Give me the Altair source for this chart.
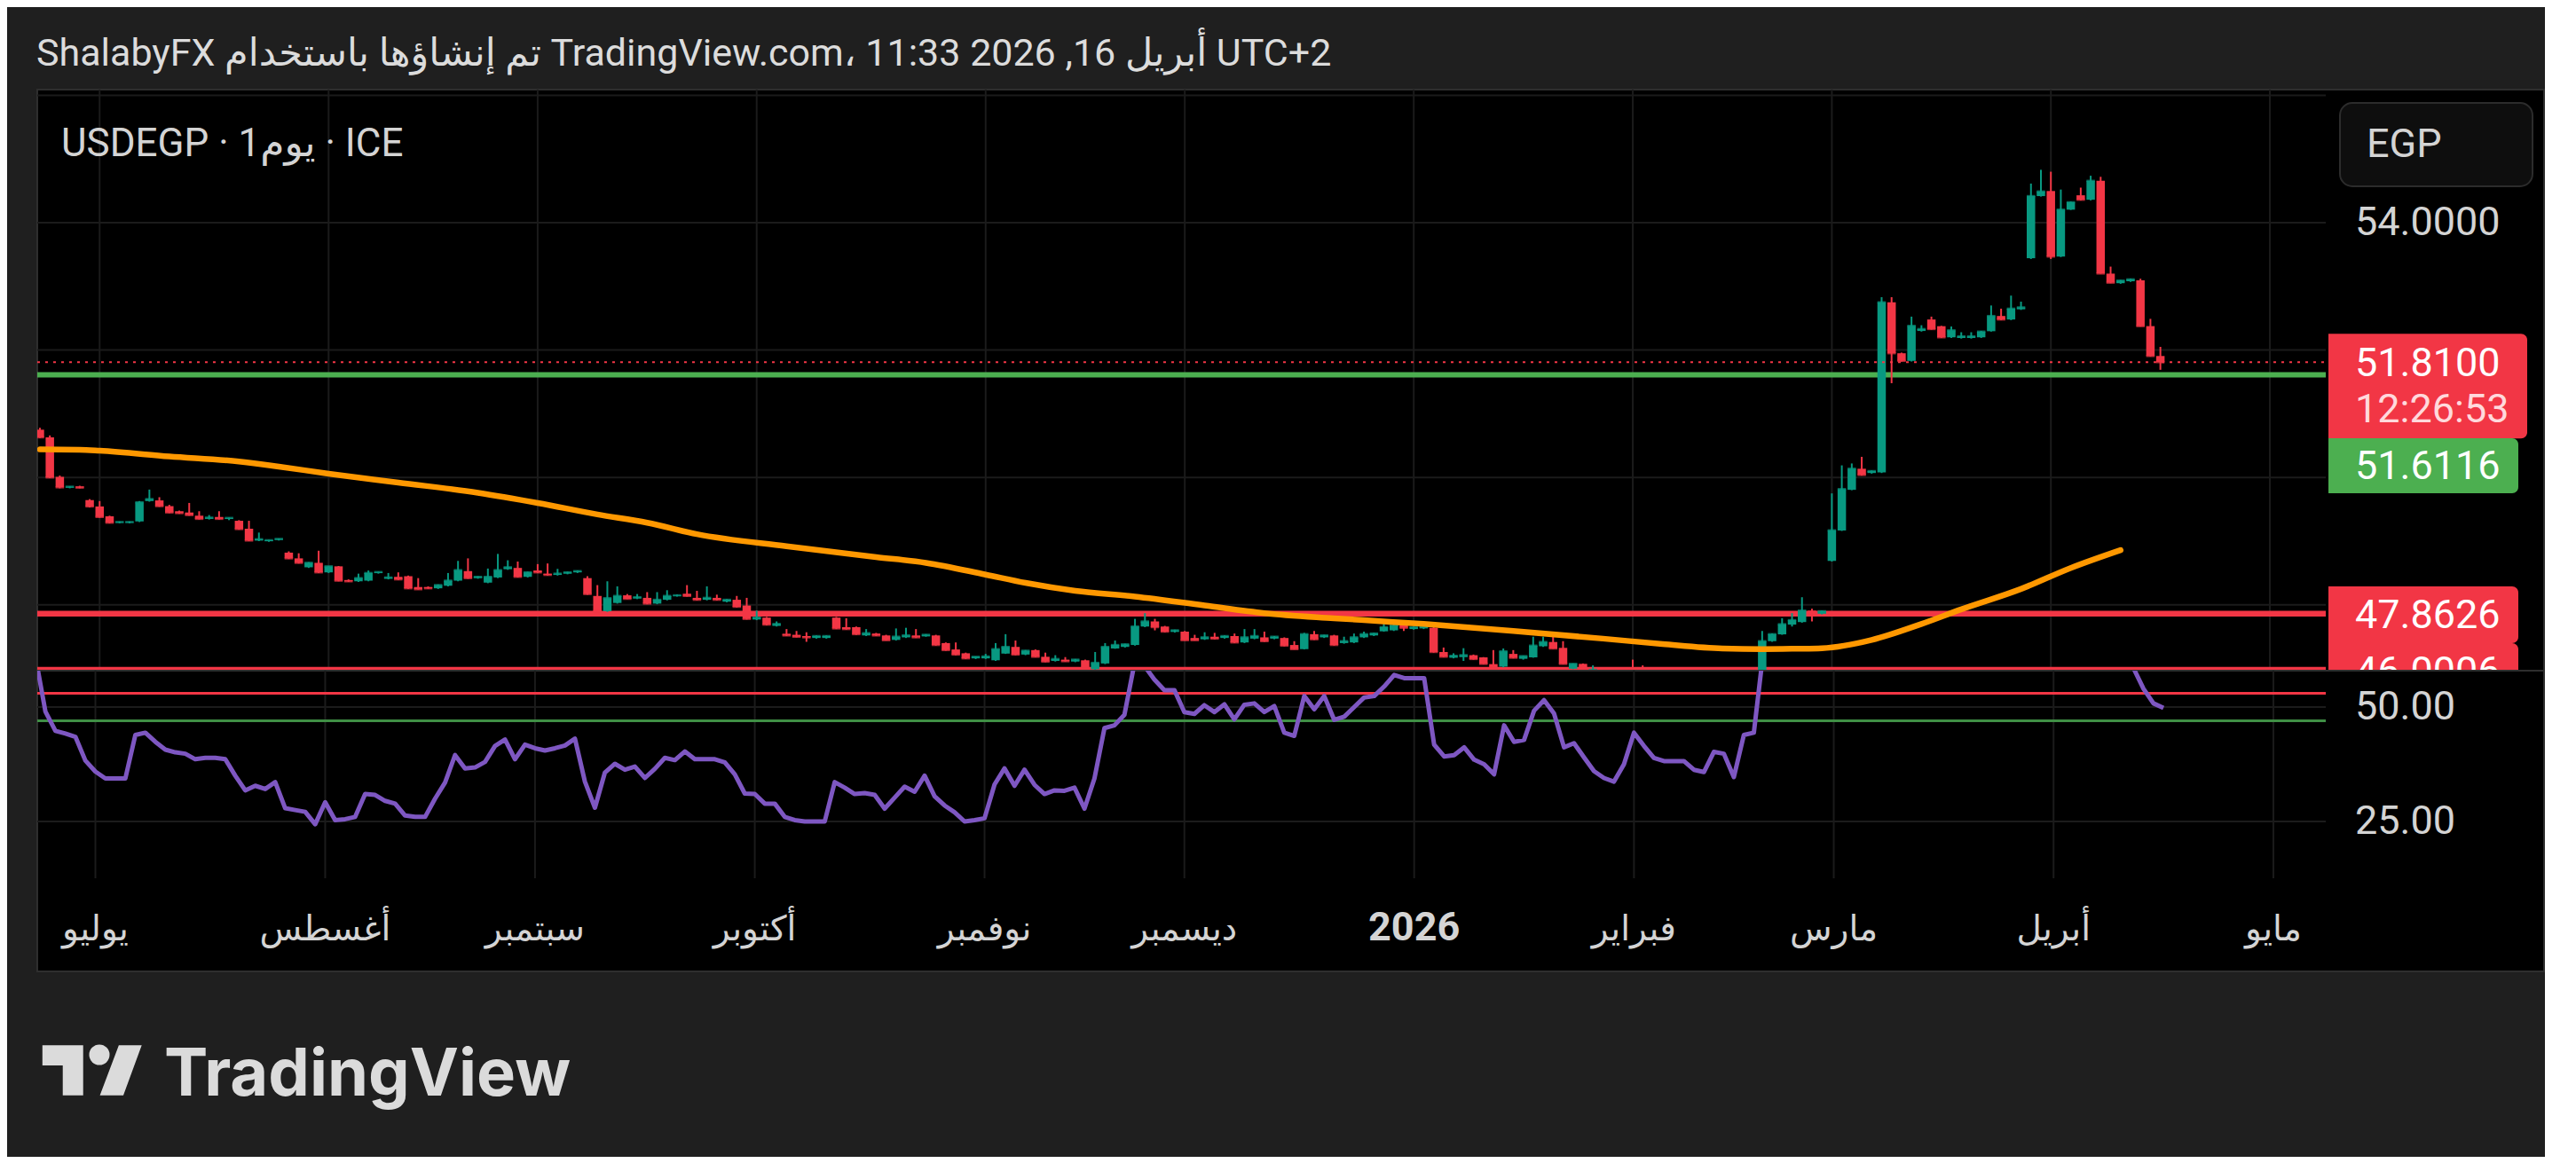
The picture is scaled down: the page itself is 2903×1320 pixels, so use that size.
import altair as alt
import pandas as pd

# ---------------- data ----------------
# bar index: 0 = 1 Jul 2025, one step per trading day
bar_idx = [-6, -5, -4, -3, -2, -1, 0, 1, 2, 3, 4, 5, 6, 7, 8, 9, 10, 11, 12, 13, 14, 15, 16, 17, 18, 19,
           20, 21, 22, 23, 24, 25, 26, 27, 28, 29, 30, 31, 32, 33, 34, 35, 36, 37, 38, 39, 40, 41, 42, 43,
           44, 45, 46, 47, 48, 49, 50, 51, 52, 53, 54, 55, 56, 57, 58, 59, 60, 61, 62, 63, 64, 65, 66, 67,
           68, 69, 70, 71, 72, 73, 74, 75, 76, 77, 78, 79, 80, 81, 82, 83, 84, 85, 86, 87, 88, 89, 90, 91,
           92, 93, 94, 95, 96, 97, 98, 99, 100, 101, 102, 103, 104, 105, 106, 107, 108, 109, 110, 111, 112,
           113, 114, 115, 116, 117, 118, 119, 120, 121, 122, 123, 124, 125, 126, 127, 128, 129, 130, 131,
           132, 133, 134, 135, 136, 137, 138, 139, 140, 141, 142, 143, 144, 145, 146, 147, 148, 149, 150,
           151, 154, 155, 167, 168, 169, 170, 171, 172, 173, 174, 175, 176, 177, 178, 179, 180, 181, 182,
           183, 184, 185, 186, 187, 188, 189, 190, 191, 192, 193, 194, 195, 196, 197, 198, 199, 200, 201,
           202, 203, 204, 205, 206, 207]
bar_open = [50.75, 50.63, 50.01, 49.84, 49.86, 49.645, 49.545, 49.39, 49.29, 49.29, 49.31, 49.63, 49.64,
            49.55, 49.47, 49.45, 49.40, 49.35, 49.38, 49.35, 49.32, 49.195, 49.01, 49.00, 49.02, 48.82,
            48.73, 48.59, 48.66, 48.51, 48.605, 48.39, 48.37, 48.38, 48.50, 48.41, 48.44, 48.45, 48.28,
            48.28, 48.26, 48.30, 48.38, 48.53, 48.42, 48.35, 48.43, 48.56, 48.58, 48.44, 48.54, 48.49,
            48.47, 48.49, 48.51, 48.42, 48.14, 47.90, 48.03, 48.15, 48.10, 48.11, 48.02, 48.08, 48.14,
            48.175, 48.11, 48.08, 48.11, 48.05, 48.08, 47.99, 47.77, 47.80, 47.67, 47.547, 47.53, 47.51,
            47.48, 47.48, 47.80, 47.65, 47.65, 47.52, 47.55, 47.52, 47.45, 47.49, 47.52, 47.505, 47.52,
            47.40, 47.30, 47.24, 47.16, 47.16, 47.13, 47.235, 47.34, 47.22, 47.29, 47.185, 47.12, 47.14,
            47.11, 47.13, 46.99, 47.08, 47.315, 47.34, 47.37, 47.66, 47.74, 47.66, 47.575, 47.58, 47.48,
            47.46, 47.50, 47.48, 47.51, 47.41, 47.47, 47.49, 47.47, 47.48, 47.37, 47.305, 47.54, 47.49,
            47.52, 47.40, 47.41, 47.49, 47.52, 47.585, 47.60, 47.677, 47.62, 47.63, 47.64, 47.26, 47.17,
            47.18, 47.21, 47.176, 47.07, 47.03, 47.23, 47.153, 47.176, 47.35, 47.417, 47.325, 46.997,
            47.074, 46.95, 47.00, 47.02, 46.98, 46.95, 47.43, 47.537, 47.69, 47.73, 47.91, 47.86, 48.69,
            49.167, 49.806, 50.137, 50.07, 50.08, 52.75, 51.95, 51.83, 52.30, 52.48, 52.375, 52.20, 52.19,
            52.19, 52.20, 52.296, 52.535, 52.48, 52.64, 53.442, 54.417, 54.497, 53.468, 54.204, 54.43,
            54.36, 54.657, 53.20, 53.05, 53.08, 53.095, 52.376, 51.907]
bar_high = [50.78, 50.66, 50.03, 49.86, 49.87, 49.66, 49.63, 49.40, 49.31, 49.31, 49.63, 49.81, 49.69,
            49.57, 49.48, 49.60, 49.47, 49.41, 49.47, 49.37, 49.33, 49.32, 49.135, 49.02, 49.04, 48.84,
            48.81, 48.67, 48.85, 48.61, 48.61, 48.40, 48.49, 48.54, 48.52, 48.50, 48.51, 48.46, 48.42,
            48.29, 48.32, 48.50, 48.69, 48.73, 48.45, 48.57, 48.80, 48.70, 48.68, 48.52, 48.64, 48.65,
            48.565, 48.52, 48.54, 48.45, 48.31, 48.37, 48.29, 48.17, 48.17, 48.20, 48.20, 48.23, 48.16,
            48.31, 48.22, 48.29, 48.16, 48.09, 48.14, 48.11, 47.91, 47.81, 47.74, 47.62, 47.59, 47.57,
            47.52, 47.52, 47.81, 47.79, 47.66, 47.62, 47.56, 47.53, 47.63, 47.64, 47.62, 47.54, 47.53,
            47.41, 47.41, 47.25, 47.19, 47.23, 47.40, 47.54, 47.44, 47.29, 47.30, 47.25, 47.21, 47.18,
            47.15, 47.14, 47.26, 47.40, 47.44, 47.39, 47.78, 47.87, 47.78, 47.67, 47.61, 47.59, 47.53,
            47.57, 47.56, 47.52, 47.55, 47.62, 47.62, 47.58, 47.51, 47.49, 47.43, 47.56, 47.59, 47.53,
            47.53, 47.50, 47.55, 47.58, 47.56, 47.756, 47.74, 47.71, 47.66, 47.67, 47.68, 47.33, 47.24,
            47.32, 47.22, 47.18, 47.29, 47.315, 47.29, 47.20, 47.50, 47.50, 47.525, 47.43, 47.08, 47.08,
            47.05, 47.01, 47.14, 47.05, 47.59, 47.55, 47.79, 47.87, 48.12, 47.94, 47.91, 49.75, 50.19,
            50.22, 50.324, 50.11, 52.83, 52.83, 51.96, 52.525, 52.39, 52.525, 52.38, 52.37, 52.28, 52.28,
            52.30, 52.70, 52.65, 52.855, 52.76, 54.614, 54.83, 54.80, 54.52, 54.33, 54.55, 54.737, 54.72,
            53.31, 53.10, 53.12, 53.12, 52.49, 52.05]
bar_low = [50.62, 49.99, 49.83, 49.83, 49.83, 49.53, 49.37, 49.28, 49.28, 49.28, 49.30, 49.62, 49.54,
           49.44, 49.43, 49.40, 49.34, 49.34, 49.34, 49.33, 49.18, 49.00, 49.00, 48.99, 49.01, 48.72,
           48.65, 48.58, 48.50, 48.50, 48.37, 48.36, 48.36, 48.37, 48.49, 48.40, 48.39, 48.25, 48.24,
           48.25, 48.25, 48.29, 48.37, 48.41, 48.41, 48.34, 48.42, 48.55, 48.43, 48.43, 48.50, 48.46,
           48.46, 48.48, 48.50, 48.16, 47.89, 47.89, 48.02, 48.09, 48.09, 48.01, 48.01, 48.07, 48.13,
           48.13, 48.07, 48.07, 48.07, 48.04, 47.96, 47.77, 47.76, 47.68, 47.66, 47.51, 47.49, 47.42,
           47.47, 47.47, 47.62, 47.61, 47.53, 47.51, 47.51, 47.44, 47.44, 47.48, 47.48, 47.50, 47.36,
           47.28, 47.21, 47.15, 47.15, 47.15, 47.12, 47.23, 47.21, 47.21, 47.18, 47.10, 47.11, 47.11,
           47.10, 46.99, 46.98, 47.07, 47.31, 47.33, 47.36, 47.65, 47.60, 47.57, 47.565, 47.44, 47.44,
           47.45, 47.46, 47.47, 47.40, 47.40, 47.46, 47.42, 47.46, 47.35, 47.30, 47.30, 47.45, 47.48,
           47.36, 47.39, 47.40, 47.48, 47.51, 47.58, 47.59, 47.59, 47.61, 47.62, 47.25, 47.18, 47.16,
           47.12, 47.14, 47.07, 46.99, 47.02, 47.16, 47.14, 47.17, 47.34, 47.31, 47.07, 46.99, 46.98,
           46.94, 46.95, 46.94, 46.93, 46.94, 47.42, 47.53, 47.66, 47.72, 47.74, 47.85, 48.68, 49.16,
           49.80, 50.03, 50.06, 50.07, 51.48, 51.82, 51.82, 52.29, 52.32, 52.19, 52.19, 52.18, 52.18,
           52.19, 52.29, 52.47, 52.47, 52.63, 53.43, 54.41, 53.43, 53.46, 54.20, 54.35, 54.35, 53.20,
           53.05, 53.04, 53.07, 52.37, 51.90, 51.69]
bar_close = [50.63, 50.00, 49.845, 49.855, 49.84, 49.545, 49.38, 49.29, 49.30, 49.30, 49.61, 49.66,
             49.55, 49.45, 49.44, 49.41, 49.35, 49.37, 49.35, 49.365, 49.19, 49.01, 49.03, 49.015,
             49.035, 48.73, 48.66, 48.66, 48.51, 48.605, 48.38, 48.37, 48.42, 48.50, 48.515, 48.43,
             48.40, 48.26, 48.245, 48.26, 48.31, 48.38, 48.545, 48.42, 48.44, 48.44, 48.545, 48.59,
             48.44, 48.51, 48.51, 48.47, 48.49, 48.51, 48.53, 48.17, 47.90, 48.105, 48.14, 48.095,
             48.12, 48.02, 48.08, 48.14, 48.15, 48.14, 48.08, 48.11, 48.08, 48.08, 47.97, 47.78, 47.80,
             47.69, 47.70, 47.52, 47.50, 47.49, 47.51, 47.51, 47.63, 47.62, 47.54, 47.555, 47.52, 47.445,
             47.50, 47.52, 47.49, 47.53, 47.37, 47.29, 47.22, 47.16, 47.185, 47.19, 47.305, 47.34, 47.22,
             47.28, 47.185, 47.11, 47.15, 47.115, 47.14, 46.997, 47.09, 47.34, 47.37, 47.38, 47.66,
             47.74, 47.65, 47.58, 47.60, 47.445, 47.445, 47.49, 47.47, 47.51, 47.41, 47.49, 47.51,
             47.43, 47.50, 47.36, 47.305, 47.54, 47.46, 47.52, 47.37, 47.43, 47.49, 47.54, 47.55, 47.65,
             47.677, 47.64, 47.65, 47.66, 47.26, 47.186, 47.20, 47.21, 47.15, 47.074, 47.00, 47.27,
             47.17, 47.195, 47.36, 47.417, 47.315, 47.074, 47.074, 46.99, 46.98, 46.96, 46.95, 46.94,
             47.43, 47.54, 47.696, 47.76, 47.91, 47.835, 47.90, 49.17, 49.817, 50.137, 50.04, 50.10,
             52.75, 51.95, 51.83, 52.38, 52.33, 52.33, 52.20, 52.31, 52.215, 52.215, 52.29, 52.535,
             52.48, 52.65, 52.67, 54.417, 54.49, 53.468, 54.204, 54.32, 54.36, 54.657, 53.202, 53.058,
             53.09, 53.11, 52.376, 51.907, 51.81]

# orange moving average (sampled along the curve)
ma_idx = [-6, -2, 0, 7, 14, 18, 23, 30, 38, 44, 50, 55, 60, 69, 78, 83, 89, 93, 98, 104, 111, 117,
          124, 128, 133, 142, 151, 157, 163, 167, 170, 173, 178, 183, 187, 193, 198, 203]
ma_val = [50.44, 50.435, 50.42, 50.33, 50.25, 50.17, 50.06, 49.92, 49.76, 49.60, 49.42, 49.29, 49.11,
          48.92, 48.75, 48.66, 48.475, 48.345, 48.22, 48.13, 47.99, 47.87, 47.79, 47.75, 47.70, 47.59,
          47.47, 47.385, 47.315, 47.305, 47.31, 47.32, 47.45, 47.70, 47.93, 48.25, 48.58, 48.86]

# RSI
rsi_idx = [-6, -5, -4, -3, -2, -1, 0, 1, 2, 3, 4, 5, 6, 7, 8, 9, 10, 11, 12, 13, 14, 15, 16, 17, 18,
           19, 20, 21, 22, 23, 24, 25, 26, 27, 28, 29, 30, 31, 32, 33, 34, 35, 36, 37, 38, 39, 40, 41,
           42, 43, 44, 45, 46, 47, 48, 49, 50, 51, 52, 53, 54, 55, 56, 57, 58, 59, 60, 61, 62, 63, 64,
           65, 66, 67, 68, 69, 70, 71, 72, 73, 74, 75, 76, 77, 78, 79, 80, 81, 82, 83, 84, 85, 86, 87,
           88, 89, 90, 91, 92, 93, 94, 95, 96, 97, 98, 99, 100, 101, 102, 103, 104, 105, 106, 107, 108,
           109, 110, 111, 112, 113, 114, 115, 116, 117, 118, 119, 120, 121, 122, 123, 124, 125, 126,
           127, 128, 129, 130, 131, 132, 133, 134, 135, 136, 137, 138, 139, 140, 141, 142, 143, 144,
           145, 146, 147, 148, 149, 150, 151, 152, 153, 154, 155, 156, 157, 158, 159, 160, 161, 162,
           163, 164, 165, 166, 167, 203, 204, 205, 206, 207]
rsi_val = [61.0, 49.0, 44.8, 44.2, 43.5, 38.3, 35.9, 34.4, 34.4, 34.4, 43.9, 44.4, 42.4, 40.7, 40.1,
           39.8, 38.6, 38.9, 38.9, 38.6, 35.0, 31.8, 32.8, 32.1, 33.6, 27.9, 27.5, 27.1, 24.4, 29.2,
           25.3, 25.5, 26.0, 31.0, 30.8, 29.5, 28.9, 26.3, 26.0, 26.0, 30.0, 33.5, 39.5, 36.6, 36.8,
           38.0, 41.5, 42.9, 38.6, 41.8, 41.0, 40.5, 41.0, 41.6, 43.1, 33.7, 28.0, 35.7, 37.6, 36.3,
           37.0, 34.5, 36.5, 38.9, 38.4, 40.3, 38.6, 38.6, 38.6, 37.9, 35.3, 31.1, 31.0, 28.9, 28.9,
           26.0, 25.3, 25.0, 25.0, 25.0, 33.6, 32.4, 31.0, 31.2, 30.8, 27.8, 30.2, 32.6, 31.5, 35.0,
           30.5, 28.5, 27.0, 25.0, 25.3, 25.7, 33.1, 36.6, 32.8, 36.3, 33.0, 31.0, 31.8, 31.7, 32.4,
           27.8, 34.4, 45.4, 46.0, 48.3, 59.5, 59.0, 56.0, 53.7, 53.7, 48.9, 48.5, 50.4, 48.9, 50.6,
           47.3, 50.5, 50.8, 48.9, 50.2, 44.4, 43.7, 52.4, 49.5, 52.4, 47.2, 47.9, 50.0, 52.1, 52.4,
           54.5, 57.0, 56.3, 56.3, 56.3, 41.8, 39.2, 39.5, 41.2, 38.5, 37.5, 35.3, 46.0, 42.4, 42.8,
           49.2, 51.5, 48.6, 41.2, 42.1, 39.0, 36.0, 34.5, 33.7, 37.5, 44.4, 41.5, 38.9, 38.2, 38.2,
           38.2, 36.3, 35.8, 40.2, 39.8, 34.7, 43.9, 44.4, 63.0, 62.0, 58.5, 54.0, 50.8, 49.8]

month_names = ["يوليو", "أغسطس", "سبتمبر", "أكتوبر", "نوفمبر", "ديسمبر", "2026",
               "فبراير", "مارس", "أبريل", "مايو"]
month_idx = [0, 23, 44, 66, 89, 109, 132, 154, 174, 196, 218]
year_label = "2026"

price_grid = [48, 50, 52, 54, 56]
price_tick_labels = ["54.0000"]
price_tick_values = [54]
rsi_grid = [25, 50]
rsi_tick_labels = ["50.00", "25.00"]
rsi_upper = 53.0
rsi_lower = 47.0

last_price = 51.81
countdown = "12:26:53"
green_level = 51.6116
red_level = 47.8626
low_level = 46.0006

header_text = "ShalabyFX تم إنشاؤها باستخدام TradingView.com، أبريل 16, 2026 11:33 UTC+2"
legend_text = "USDEGP · 1يوم · ICE"
currency = "EGP"
brand = "TradingView"

# ---------------- styling / layout ----------------
BG = "#1f1f1f"
PANEL = "#000000"
BORDER = "#2e2e2e"
GRID = "#1b1b1b"
UP = "#089981"
DOWN = "#f23645"
RED = "#f23645"
GREEN = "#4caf50"
RSI_GREEN = "#3f8f45"
ORANGE = "#ff9800"
PURPLE = "#7e57c2"
TXT = "#d4d4d4"
FONT = "Roboto, DejaVu Sans, sans-serif"

W = 2825
HEAD_H = 92
PRICE_H = 655
RSI_H = 339
FOOT_H = 208
PLOT_END_PX = 2579      # end of the plotting area (price scale starts here)
LABEL_X = 2612
BOX_X0 = 2582
FS_AXIS = 45
FS_HEAD = 43
FS_LEGEND = 44
FS_MONTH = 39

X_DOM = [-5.8176, 245.094]
xs = alt.Scale(domain=X_DOM, zero=False, nice=False)
PY = alt.Scale(domain=[46.967, 56.089], zero=False, nice=False, clamp=True)
RY = alt.Scale(domain=[-7.752, 57.946], zero=False, nice=False)

# ---------------- frames ----------------
bars = pd.DataFrame({"i": bar_idx, "o": bar_open, "h": bar_high, "l": bar_low, "c": bar_close})
bars["dir"] = ["up" if c >= o else "down" for o, c in zip(bars.o, bars.c)]
ma = pd.DataFrame({"i": ma_idx, "v": ma_val})
rsi = pd.DataFrame({"i": rsi_idx, "v": rsi_val})
months = pd.DataFrame({"i": month_idx, "name": month_names})
pgrid = pd.DataFrame({"v": price_grid})
rgrid = pd.DataFrame({"v": rsi_grid})

dir_color = alt.Color("dir:N", scale=alt.Scale(domain=["up", "down"], range=[UP, DOWN]), legend=None)

# ---------------- price pane ----------------
p_hgrid = alt.Chart(pgrid).mark_rule(color=GRID, strokeWidth=2).encode(
    y=alt.Y("v:Q", scale=PY, axis=None), x=alt.value(0), x2=alt.value(PLOT_END_PX))
p_vgrid = alt.Chart(months).mark_rule(color=GRID, strokeWidth=2).encode(
    x=alt.X("i:Q", scale=xs, axis=None))


def hline(value, color, width, dash=None):
    kw = dict(color=color, strokeWidth=width, clip=True)
    if dash:
        kw["strokeDash"] = dash
    return alt.Chart(pd.DataFrame({"v": [value]})).mark_rule(**kw).encode(
        y=alt.Y("v:Q", scale=PY, axis=None), x=alt.value(0), x2=alt.value(PLOT_END_PX))


lvl_green = hline(green_level, GREEN, 6)
lvl_red = hline(red_level, RED, 6.5)
lvl_low = alt.Chart(pd.DataFrame({"v": [low_level]})).mark_rule(
    color=RED, strokeWidth=3.5, yOffset=-2.5).encode(
    y=alt.Y("v:Q", scale=PY, axis=None), x=alt.value(0), x2=alt.value(PLOT_END_PX))

wicks = alt.Chart(bars).mark_rule(strokeWidth=2, clip=True).encode(
    x=alt.X("i:Q", scale=xs, axis=None), y=alt.Y("l:Q", scale=PY, axis=None), y2="h:Q",
    color=dir_color)
bodies = alt.Chart(bars).mark_bar(size=9.5, clip=True).encode(
    x=alt.X("i:Q", scale=xs, axis=None), y=alt.Y("o:Q", scale=PY, axis=None), y2="c:Q",
    color=dir_color)
flats = alt.Chart(bars).mark_tick(orient="horizontal", size=9.5, thickness=2.5, clip=True).encode(
    x=alt.X("i:Q", scale=xs, axis=None), y=alt.Y("c:Q", scale=PY, axis=None), color=dir_color)

ma_line = alt.Chart(ma).mark_line(color=ORANGE, strokeWidth=6.5, strokeCap="round",
                                  interpolate="monotone", clip=True).encode(
    x=alt.X("i:Q", scale=xs, axis=None), y=alt.Y("v:Q", scale=PY, axis=None))

last_line = hline(last_price, RED, 2, dash=[3, 6])


def label_box(value, color, top, bottom, right):
    return alt.Chart(pd.DataFrame({"v": [value]})).mark_rect(
        fill=color, yOffset=top, y2Offset=bottom, cornerRadiusTopRight=7,
        cornerRadiusBottomRight=7, clip=True).encode(
        x=alt.value(BOX_X0), x2=alt.value(right),
        y=alt.Y("v:Q", scale=PY, axis=None), y2="v:Q")


def label_text(value, text, dy, color="#ffffff"):
    return alt.Chart(pd.DataFrame({"v": [value], "t": [text]})).mark_text(
        align="left", baseline="middle", dy=dy, fontSize=FS_AXIS, font=FONT, color=color,
        clip=True).encode(
        x=alt.value(LABEL_X), y=alt.Y("v:Q", scale=PY, axis=None), text="t:N")


price_ticks = alt.Chart(pd.DataFrame({"v": price_tick_values, "t": price_tick_labels})).mark_text(
    align="left", baseline="middle", fontSize=FS_AXIS, font=FONT, color=TXT).encode(
    x=alt.value(LABEL_X), y=alt.Y("v:Q", scale=PY, axis=None), text="t:N")

box_last = label_box(last_price, RED, -32, 86, 2806)
txt_last = label_text(last_price, f"{last_price:.4f}", 2)
txt_count = label_text(last_price, countdown, 54, "#ffd9dc")
box_green = label_box(green_level, GREEN, 71.5, 133.5, 2796)
txt_green = label_text(green_level, f"{green_level:.4f}", 103.5)
box_red = label_box(red_level, RED, -30.6, 33.4, 2796)
txt_red = label_text(red_level, f"{red_level:.4f}", 2.4)
box_low = label_box(low_level, RED, -31, 33, 2796)
txt_low = label_text(low_level, f"{low_level:.4f}", 2)

egp_box = alt.Chart(pd.DataFrame({"t": [currency]})).mark_rect(
    fill="#0e0e0e", stroke="#2c2c2c", strokeWidth=2, cornerRadius=14).encode(
    x=alt.value(2595), x2=alt.value(2812), y=alt.value(15), y2=alt.value(109))
egp_txt = alt.Chart(pd.DataFrame({"t": [currency]})).mark_text(
    align="left", baseline="middle", fontSize=FS_AXIS, font=FONT, color=TXT).encode(
    x=alt.value(2625), y=alt.value(62), text="t:N")
legend = alt.Chart(pd.DataFrame({"t": [legend_text]})).mark_text(
    align="left", baseline="middle", fontSize=FS_LEGEND, font=FONT, color=TXT).encode(
    x=alt.value(27), y=alt.value(62), text="t:N")

price = alt.layer(
    p_hgrid, p_vgrid, lvl_green, lvl_red, lvl_low, wicks, bodies, flats, ma_line, last_line,
    price_ticks, box_last, txt_last, txt_count, box_green, txt_green, box_red, txt_red,
    box_low, txt_low, egp_box, egp_txt, legend
).properties(width=W, height=PRICE_H,
             view=alt.ViewBackground(fill=PANEL, stroke=BORDER, strokeWidth=2))

# ---------------- RSI pane ----------------
r_hgrid = alt.Chart(rgrid).mark_rule(color=GRID, strokeWidth=2).encode(
    y=alt.Y("v:Q", scale=RY, axis=None), x=alt.value(0), x2=alt.value(PLOT_END_PX))
r_vgrid = alt.Chart(months).mark_rule(color=GRID, strokeWidth=2).encode(
    x=alt.X("i:Q", scale=xs, axis=None), y=alt.value(0), y2=alt.value(234))


def rline(value, color, width):
    return alt.Chart(pd.DataFrame({"v": [value]})).mark_rule(color=color, strokeWidth=width).encode(
        y=alt.Y("v:Q", scale=RY, axis=None), x=alt.value(0), x2=alt.value(PLOT_END_PX))


r_up = rline(rsi_upper, RED, 3)
r_lo = rline(rsi_lower, RSI_GREEN, 3)
rsi_line = alt.Chart(rsi).mark_line(color=PURPLE, strokeWidth=5, strokeJoin="round",
                                    clip=True).encode(
    x=alt.X("i:Q", scale=xs, axis=None), y=alt.Y("v:Q", scale=RY, axis=None))
rsi_ticks = alt.Chart(pd.DataFrame({"v": rsi_grid[::-1], "t": rsi_tick_labels})).mark_text(
    align="left", baseline="middle", fontSize=FS_AXIS, font=FONT, color=TXT).encode(
    x=alt.value(LABEL_X), y=alt.Y("v:Q", scale=RY, axis=None), text="t:N")
month_txt = alt.Chart(months).transform_filter(
    alt.datum.name != year_label).mark_text(
    align="center", baseline="middle", fontSize=FS_MONTH, font=FONT, color=TXT).encode(
    x=alt.X("i:Q", scale=xs, axis=None), y=alt.value(292), text="name:N")
year_txt = alt.Chart(months).transform_filter(
    alt.datum.name == year_label).mark_text(
    align="center", baseline="middle", fontSize=FS_AXIS, font=FONT, fontWeight="bold",
    color=TXT).encode(
    x=alt.X("i:Q", scale=xs, axis=None), y=alt.value(290), text="name:N")

rsi_pane = alt.layer(r_hgrid, r_vgrid, r_up, r_lo, rsi_line, rsi_ticks, month_txt, year_txt
                     ).properties(width=W, height=RSI_H,
                                  view=alt.ViewBackground(fill=PANEL, stroke=BORDER, strokeWidth=2))

# ---------------- header / footer ----------------
head = alt.Chart(pd.DataFrame({"t": [header_text]})).mark_text(
    align="left", baseline="alphabetic", fontSize=FS_HEAD, font=FONT, color="#dcdcdc").encode(
    x=alt.value(-1), y=alt.value(65), text="t:N"
).properties(width=W, height=HEAD_H, view=alt.ViewBackground(stroke="transparent"))

LOGO_PATH = ("M -0.986 -0.49 L -0.173 -0.49 L -0.173 0.508 L -0.58 0.508 L -0.58 -0.0885 "
             "L -0.986 -0.0885 Z M 0.538 -0.49 L 0.995 -0.49 L 0.628 0.508 L 0.161 0.508 Z")
logo_df = pd.DataFrame({"t": [brand]})
logo_shape = alt.Chart(logo_df).mark_point(
    shape=LOGO_PATH, size=113 * 113, filled=True, fill="#dbdbdb", opacity=1, strokeWidth=0).encode(
    x=alt.value(61.5), y=alt.value(111))
logo_dot = alt.Chart(logo_df).mark_point(
    shape="circle", size=23 * 23, filled=True, fill="#dbdbdb", opacity=1, strokeWidth=0).encode(
    x=alt.value(70), y=alt.value(94))
logo_txt = alt.Chart(logo_df).mark_text(
    align="left", baseline="alphabetic", fontSize=74, font="Inter, Lato, sans-serif",
    fontWeight=700, color="#dbdbdb").encode(
    x=alt.value(143), y=alt.value(140), text="t:N")
foot = alt.layer(logo_shape, logo_dot, logo_txt).properties(
    width=W, height=FOOT_H, view=alt.ViewBackground(stroke="transparent"))

chart = alt.vconcat(head, price, rsi_pane, foot, spacing=0, bounds="flush").properties(
    padding={"left": 31, "top": 0, "right": 0, "bottom": 0},
    background=BG,
)

chart.save("out.html", embed_options={"renderer": "svg", "actions": False})
